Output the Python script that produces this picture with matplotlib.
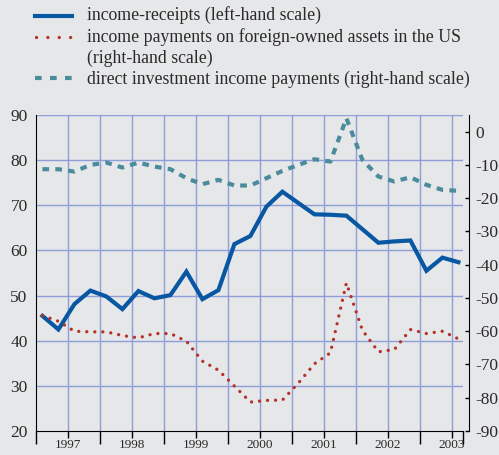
import numpy as np
import matplotlib
matplotlib.use('Agg')
from matplotlib import pyplot as plt
from matplotlib.lines import Line2D

# quarterly data, Q1 1997 .. Q3 2003
receipts = [45.5, 42.5, 48.1, 51.1, 49.8, 47.0, 51.0, 49.4, 50.1, 55.3,
            49.2, 51.2, 61.4, 63.2, 69.7, 73.0, 70.5, 68.0, 67.9, 67.7,
            64.7, 61.7, 62.0, 62.2, 55.5, 58.4, 57.4]
payments = [-55.3, -57.0, -60.0, -60.2, -60.2, -61.3, -62.0, -60.7, -60.7, -63.0,
            -69.0, -71.7, -76.5, -81.3, -80.8, -80.7, -75.6, -69.8, -66.5, -45.5,
            -59.7, -66.2, -65.5, -59.5, -60.7, -60.0, -62.3]
direct_inv = [-11.3, -11.3, -12.0, -10.0, -9.3, -10.8, -9.3, -10.5, -11.3, -14.0,
              -15.8, -14.5, -16.2, -16.2, -14.0, -11.8, -10.0, -8.3, -9.0, 4.0,
              -8.5, -13.5, -15.0, -13.7, -16.0, -17.5, -17.8]
years = [1997, 1998, 1999, 2000, 2001, 2002, 2003]
left_ticks = [20, 30, 40, 50, 60, 70, 80, 90]
right_ticks = [0, -10, -20, -30, -40, -50, -60, -70, -80, -90]

labels = ['income-receipts (left-hand scale)',
          'income payments on foreign-owned assets in the US',
          '(right-hand scale)',
          'direct investment income payments (right-hand scale)']

bg = '#e6e7e9'
grid_c = '#8e9ed8'
blue = '#0757a3'
red = '#b4322a'
teal = '#4a8c9c'
txt_c = '#2a2a2a'

plt.rcParams['font.family'] = ['Liberation Serif', 'DejaVu Serif']

t = 1997.1 + 0.25 * np.arange(len(receipts))
x_end = 1997 + 427/64

fig = plt.figure(figsize=(4.99, 4.55), dpi=100, facecolor=bg)
ax = fig.add_axes([36/499, 1 - 431/455, 427/499, 316/455])
ax.set_facecolor(bg)
ax2 = ax.twinx()

ax.set_xlim(1997.0, x_end)
ax.set_ylim(20, 90)
ax2.set_ylim(-90, 5)

# grid
for g in np.arange(1997.5, 2003.6, 0.5):
    ax.axvline(g, color=grid_c, lw=1, zorder=0)
for g in left_ticks[1:]:
    ax.axhline(g, color=grid_c, lw=1, zorder=0)

dots = (0, (0.01, 2.4))
ax.plot(t, receipts, color=blue, lw=3, solid_joinstyle='miter', zorder=3)
ax2.plot(t, payments, color=red, lw=2.4, linestyle=dots,
         dash_capstyle='round', zorder=2)
ax2.plot(t, direct_inv, color=teal, lw=3, linestyle=(0, (1.6, 1.5)), zorder=2)

# axes styling
for s in ['top', 'right']:
    ax.spines[s].set_visible(False)
ax.spines['left'].set_color('black')
ax.spines['bottom'].set_color('black')
for s in ['top', 'left', 'bottom']:
    ax2.spines[s].set_visible(False)
ax2.spines['right'].set_position(('outward', 4))
ax2.spines['right'].set_color('black')

ax.set_yticks(left_ticks)
ax.set_yticklabels([str(v) for v in left_ticks])
ax.tick_params(axis='y', length=0, pad=6, labelsize=12.5, colors=txt_c)

ax.set_xticks(years + [x_end])
ax.set_xticklabels([])
ax.set_xticks([y + 0.5 for y in years], minor=True)
ax.set_xticklabels([str(y) for y in years], minor=True)
ax.tick_params(axis='x', which='major', direction='out', length=9, width=1)
ax.tick_params(axis='x', which='minor', direction='out', length=5, width=1,
               pad=1, labelsize=9.5, labelcolor=txt_c)

ax2.set_yticks(right_ticks)
ax2.set_yticklabels([str(v) for v in right_ticks])
ax2.tick_params(axis='y', direction='in', length=3, width=1, pad=5,
                labelsize=12.5, colors='black', labelcolor=txt_c)

# legend drawn by hand at the top
lx0, lx1, tx = 35/499, 72/499, 87/499
fig.add_artist(Line2D([lx0, lx1], [1 - 15.5/455] * 2, color=blue, lw=3,
                      transform=fig.transFigure))
fig.add_artist(Line2D([lx0 + 0.002, lx1], [1 - 37/455] * 2, color=red, lw=2.4,
                      linestyle=(0, (0.01, 3.4)), dash_capstyle='round',
                      transform=fig.transFigure))
fig.add_artist(Line2D([lx0, lx1], [1 - 78/455] * 2, color=teal, lw=3,
                      linestyle=(0, (1.6, 2.0)), transform=fig.transFigure))
row_y = [15, 37, 58, 79]
for lab, yy in zip(labels, row_y):
    fig.text(tx, 1 - yy/455, lab, va='center', fontsize=12.8, color=txt_c)

fig.savefig('out.png', dpi=100, facecolor=bg)
